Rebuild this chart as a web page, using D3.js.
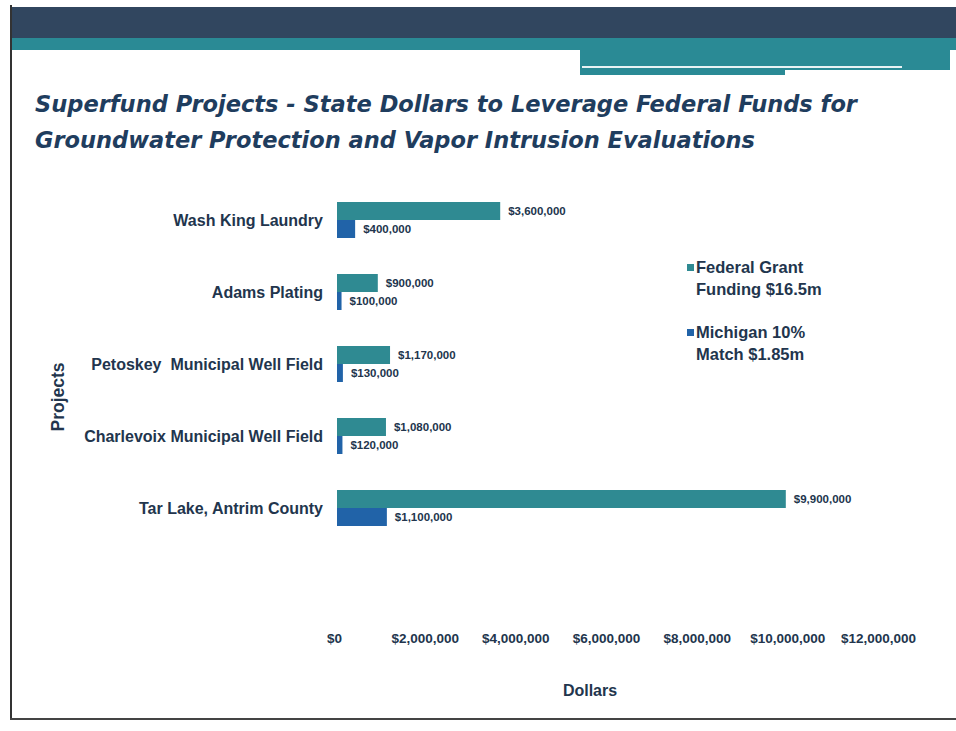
<!DOCTYPE html>
<html>
<head>
<meta charset="utf-8">
<script src="https://cdn.jsdelivr.net/npm/d3@7"></script>
<style>
  body { margin: 0; background: #fff; }
  svg { display: block; }
  text { font-family: "Liberation Sans", Arial, sans-serif; font-weight: bold; fill: #22354d; }
</style>
</head>
<body>
<svg class="svg"></svg>
<script>
// data
const projects = ["Wash King Laundry", "Adams Plating", "Petoskey  Municipal Well Field", "Charlevoix Municipal Well Field", "Tar Lake, Antrim County"]
const federal = [3600000, 900000, 1170000, 1080000, 9900000]
const michigan = [400000, 100000, 130000, 120000, 1100000]
const seriesNames = ["Federal Grant|Funding $16.5m", "Michigan 10%|Match $1.85m"]
const tickValues = [0, 2000000, 4000000, 6000000, 8000000, 10000000, 12000000]

const width = 956, height = 731
const colors = ["#2f8a92", "#2163a8"]
const money = d3.format("$,")

const svg = d3.select(".svg").attr("width", width).attr("height", height)

// slide frame + header band
svg.append("rect").attr("x", 10).attr("y", 7).attr("width", 946).attr("height", 32).attr("fill", "#31465f")
svg.append("rect").attr("x", 10).attr("y", 38).attr("width", 946).attr("height", 12).attr("fill", "#2a8a95")
svg.append("rect").attr("x", 580).attr("y", 50).attr("width", 370).attr("height", 25).attr("fill", "#2a8a95")
svg.append("rect").attr("x", 582).attr("y", 66).attr("width", 320).attr("height", 2).attr("fill", "#e8f2f4")
svg.append("rect").attr("x", 785).attr("y", 70).attr("width", 170).attr("height", 6).attr("fill", "#fff")
svg.append("line").attr("x1", 11).attr("x2", 11).attr("y1", 5).attr("y2", 719).attr("stroke", "#333").attr("stroke-width", 2)
svg.append("line").attr("x1", 10).attr("x2", 956).attr("y1", 719).attr("y2", 719).attr("stroke", "#444").attr("stroke-width", 2)

// title
const title = svg.append("text")
  .style("font-family", "'DejaVu Sans Condensed', 'DejaVu Sans', sans-serif")
  .style("font-style", "italic")
  .style("font-size", "23px")
  .style("fill", "#1f3d5e")
title.append("tspan").attr("x", 35).attr("y", 112).attr("textLength", 822).attr("lengthAdjust", "spacingAndGlyphs")
  .text("Superfund Projects - State Dollars to Leverage Federal Funds for")
title.append("tspan").attr("x", 35).attr("y", 148).attr("textLength", 720).attr("lengthAdjust", "spacingAndGlyphs")
  .text("Groundwater Protection and Vapor Intrusion Evaluations")

// scales
const x = d3.scaleLinear().domain([0, 12000000]).range([337, 881])
const y = d3.scaleBand().domain(projects).range([184, 544]).paddingInner(0.5).paddingOuter(0.25)
const ySeries = d3.scaleBand().domain([0, 1]).range([0, y.bandwidth()])

const rows = projects.map((p, i) => ({ project: p, values: [federal[i], michigan[i]] }))

const row = svg.selectAll("g.row")
  .data(rows)
  .join("g")
  .attr("class", "row")
  .attr("transform", (d) => `translate(0, ${y(d.project)})`)

row.selectAll("rect")
  .data((d) => d.values)
  .join("rect")
  .attr("x", x(0))
  .attr("y", (d, i) => ySeries(i))
  .attr("width", (d) => x(d) - x(0))
  .attr("height", ySeries.bandwidth())
  .attr("fill", (d, i) => colors[i])

row.selectAll("text.val")
  .data((d) => d.values)
  .join("text")
  .attr("class", "val")
  .attr("x", (d) => x(d) + 8)
  .attr("y", (d, i) => ySeries(i) + ySeries.bandwidth() / 2)
  .attr("dy", "0.35em")
  .style("font-size", "11.5px")
  .text((d) => money(d))

// category axis (labels only)
svg.append("g")
  .attr("transform", "translate(335, 0)")
  .call(d3.axisLeft(y).tickSize(0).tickPadding(12))
  .call((g) => g.select(".domain").remove())
  .selectAll("text")
  .attr("dy", "0.35em")
  .style("font-size", "16px")
  .style("fill", "#22354d")
  .style("font-family", "'Liberation Sans', Arial, sans-serif")
  .style("font-weight", "bold")
  .style("white-space", "pre")

// value axis (labels only)
svg.append("g")
  .attr("transform", "translate(-3, 630)")
  .call(d3.axisBottom(x).tickValues(tickValues).tickFormat(money).tickSize(0))
  .call((g) => g.select(".domain").remove())
  .selectAll("text")
  .style("font-size", "13.5px")
  .style("fill", "#22354d")
  .style("font-family", "'Liberation Sans', Arial, sans-serif")
  .style("font-weight", "bold")

// axis titles
svg.append("text")
  .attr("transform", "translate(64, 397) rotate(-90)")
  .attr("text-anchor", "middle")
  .style("font-size", "17.5px")
  .text("Projects")

svg.append("text")
  .attr("x", 590).attr("y", 696)
  .attr("text-anchor", "middle")
  .style("font-size", "16px")
  .text("Dollars")

// legend
const legend = svg.selectAll("g.legend")
  .data(seriesNames)
  .join("g")
  .attr("class", "legend")
  .attr("transform", (d, i) => `translate(687, ${273 + i * 65})`)

legend.append("rect")
  .attr("x", 0).attr("y", -9)
  .attr("width", 7).attr("height", 7)
  .attr("fill", (d, i) => colors[i])

legend.append("text")
  .style("font-size", "16.5px")
  .selectAll("tspan")
  .data((d) => d.split("|"))
  .join("tspan")
  .attr("x", 9)
  .attr("dy", (d, i) => i === 0 ? 0 : 22)
  .text((d) => d)
</script>
</body>
</html>
